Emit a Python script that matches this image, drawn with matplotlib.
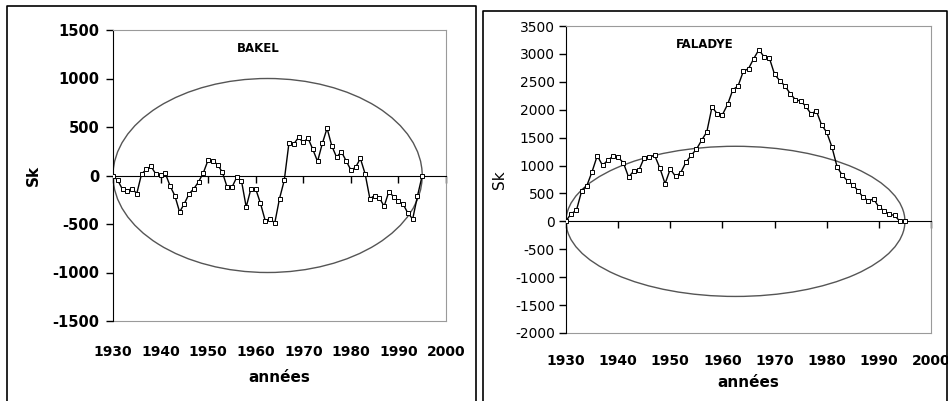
import matplotlib
matplotlib.use("Agg")
import matplotlib.pyplot as plt
from matplotlib.patches import Ellipse
from matplotlib.lines import Line2D

plt.rcParams["axes.unicode_minus"] = False

# years (one value per year)
years = list(range(1930, 1996))

# cumulative deviations Sk - BAKEL
bakel = [0, -50, -143, -155, -135, -186, 15, 63, 94, 15,
         5, 22, -108, -208, -376, -290, -188, -136, -64, 29,
         160, 150, 112, 32, -122, -122, -19, -53, -325, -136,
         -139, -287, -466, -445, -490, -239, -50, 340, 325, 392,
         342, 385, 270, 145, 330, 487, 304, 189, 246, 152,
         57, 84, 176, 17, -239, -207, -233, -316, -166, -220,
         -266, -296, -390, -448, -212, 0]

# cumulative deviations Sk - FALADYE
faladye = [10, 137, 197, 544, 640, 890, 1177, 1003, 1093, 1165,
           1147, 1051, 794, 902, 920, 1141, 1153, 1183, 956, 675,
           938, 806, 872, 1057, 1183, 1290, 1451, 1601, 2049, 1929,
           1911, 2097, 2359, 2425, 2688, 2736, 2915, 3076, 2945, 2927,
           2634, 2521, 2425, 2288, 2180, 2156, 2061, 1923, 1983, 1732,
           1595, 1332, 974, 824, 723, 657, 550, 430, 370, 400,
           257, 191, 125, 108, 5, 0]

# Bois control ellipses (centre year, span in years, full height)
ell_center = 1962.5
ell_span = 65
bakel_ell_height = 2000
faladye_ell_height = 2690

xticks = list(range(1930, 2001, 10))
bakel_yticks = list(range(-1500, 1501, 500))
faladye_yticks = list(range(-2000, 3501, 500))

GRAY = "#9a9a9a"

fig = plt.figure(figsize=(9.48, 4.01), dpi=100)

# panel borders (figure coords)
W, H = 948.0, 401.0
def fx(p):
    return p / W
def fy(p):
    return 1 - p / H
for xs, ys in [([7, 7, 476, 476], [401, 6, 6, 401]),
               ([483, 483, 947, 947], [401, 11, 11, 401])]:
    fig.add_artist(Line2D([fx(v) for v in xs], [fy(v) for v in ys],
                          color="black", lw=1.2))


def make_panel(rect, values, yticks, ell_height, name, name_xy, bold_y,
               lab_pad, xlab_pad):
    ax = fig.add_axes(rect)
    ax.set_xlim(1930, 2000)
    ax.set_ylim(yticks[0], yticks[-1])

    ax.add_patch(Ellipse((ell_center, 0), ell_span, ell_height,
                         fill=False, edgecolor="#555555", lw=1.0))
    ax.plot(years, values, color="black", lw=1.0, marker="s", ms=2.5,
            mfc="white", mec="black", mew=0.7, zorder=3)

    # x axis crossing at zero, labels at the bottom
    ax.spines["bottom"].set_position(("data", 0))
    ax.spines["bottom"].set_color("black")
    ax.spines["left"].set_color("black")
    ax.spines["top"].set_color(GRAY)
    ax.spines["right"].set_color(GRAY)
    ax.set_xticks(xticks)
    ax.tick_params(axis="x", direction="out", length=5, width=1,
                   labelbottom=False)
    ax.set_yticks(yticks)
    ax.tick_params(axis="y", direction="out", length=5, width=1,
                   pad=3 if not bold_y else 5,
                   labelsize=10 if not bold_y else 10.5)
    for t in ax.get_yticklabels():
        t.set_fontweight("bold" if bold_y else "normal")

    sec = ax.secondary_xaxis("bottom")
    sec.set_xticks(xticks)
    sec.tick_params(length=0, pad=lab_pad, labelsize=10)
    for t in sec.get_xticklabels():
        t.set_fontweight("bold")
    sec.spines["bottom"].set_color(GRAY)
    sec.set_xlabel("années", fontsize=11, fontweight="bold", labelpad=xlab_pad)

    ax.set_ylabel("Sk", fontsize=11, fontweight="bold" if bold_y else "normal")
    ax.text(name_xy[0], name_xy[1], name, transform=ax.transAxes,
            fontsize=8.5, fontweight="bold", ha="center", va="center")
    return ax


axl = make_panel([113 / W, 80 / H, 333 / W, 291 / H], bakel, bakel_yticks,
                 bakel_ell_height, "BAKEL", (0.435, 0.938), True, 17, 8)
axl.yaxis.set_label_coords(-0.217, 0.5)

axr = make_panel([566 / W, 68 / H, 365 / W, 307 / H], faladye, faladye_yticks,
                 faladye_ell_height, "FALADYE", (0.38, 0.94), False, 15, 5)
axr.yaxis.set_label_coords(-0.163, 0.5)

fig.savefig("out.png", dpi=100)
